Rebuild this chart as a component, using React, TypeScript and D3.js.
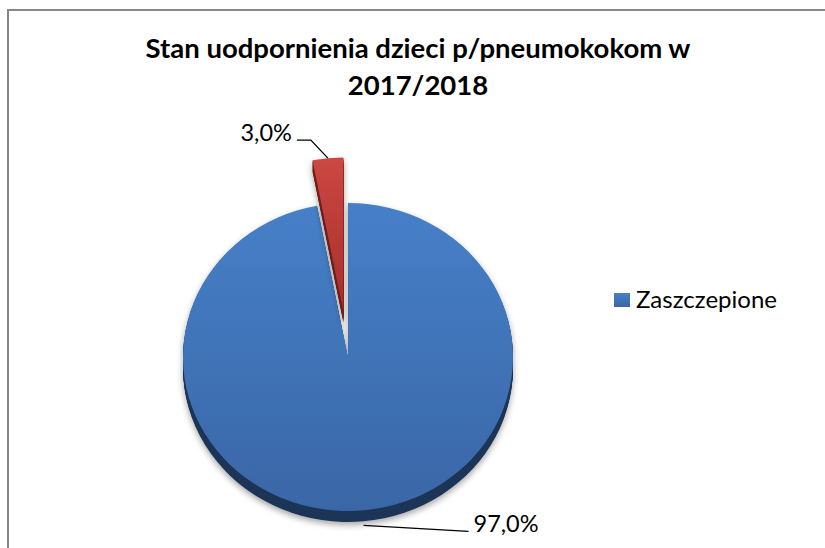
import React from "react";
import * as d3 from "d3";

const categories = ["Zaszczepione", ""];
const values = [97, 3];
const valueLabels = ["97,0%", "3,0%"];
const titleLines = ["Stan uodpornienia dzieci p/pneumokokom w", "2017/2018"];

const topColors = [
  ["#4680c8", "#3a66a6"],
  ["#cc4742", "#a52f2b"],
];
const sideColors = ["#1d3457", "#6e1d1a"];

export default function App() {
  const width = 825;
  const height = 548;
  const cx = 348;
  const cy = 357;
  const rx = 165;
  const ry = 154;
  const depth = 11;
  const squash = ry / rx;
  const explode = [0, 49];

  const pie = d3
    .pie<number>()
    .sort(null)
    .startAngle(0)
    .endAngle(2 * Math.PI);
  const arcs = pie(values);
  const arc = d3
    .arc<d3.PieArcDatum<number>>()
    .innerRadius(0)
    .outerRadius(rx);

  // offset of each slice (unscaled pie space)
  const offsets = arcs.map((a, i) => {
    const mid = (a.startAngle + a.endAngle) / 2;
    return [Math.sin(mid) * explode[i], -Math.cos(mid) * explode[i]];
  });

  // point on the outer rim at the bisector, in page coords
  const rimPoint = (i: number, withDepth: boolean) => {
    const a = arcs[i];
    const mid = (a.startAngle + a.endAngle) / 2;
    const x = cx + offsets[i][0] + Math.sin(mid) * rx;
    const y = cy + (offsets[i][1] - Math.cos(mid) * rx) * squash;
    return [x, y + (withDepth && Math.cos(mid) < 0 ? depth : 0)];
  };

  const p0 = rimPoint(0, true);
  const p1 = rimPoint(1, false);
  const line = d3.line();

  const steps = d3.range(1, depth + 1);

  return (
    <svg
      width={width}
      height={height}
      style={{ position: "absolute", left: 0, top: 0, background: "#fff" }}
      fontFamily="Lato, 'Open Sans', sans-serif"
    >
      <defs>
        {topColors.map((c, i) => (
          <linearGradient key={i} id={`grad${i}`} x1="0" y1="0" x2="0" y2="1">
            <stop offset="0%" stopColor={c[0]} />
            <stop offset="100%" stopColor={c[1]} />
          </linearGradient>
        ))}
        <filter id="shadow" x="-20%" y="-20%" width="140%" height="140%">
          <feDropShadow dx="0" dy="3" stdDeviation="3" floodColor="#000" floodOpacity="0.35" />
        </filter>
      </defs>

      <rect width={width} height={height} fill="#fff" />
      <path d={`M8,${height} V10 H${width}`} fill="none" stroke="#868686" strokeWidth={2} />

      <text x={418} y={58} textAnchor="middle" fontSize={27.5} fontWeight="bold" fill="#000">
        {titleLines[0]}
      </text>
      <text x={418} y={95} textAnchor="middle" fontSize={27.5} fontWeight="bold" fill="#000">
        {titleLines[1]}
      </text>

      {arcs.map((a, i) => (
        <g key={i} filter="url(#shadow)">
          <g transform={`translate(${cx},${cy}) scale(1,${squash}) translate(${offsets[i][0]},${offsets[i][1]})`}>
            {steps.map((k) => (
              <path key={k} d={arc(a) || ""} fill={sideColors[i]} transform={`translate(0,${k / squash})`} />
            ))}
            <path d={arc(a) || ""} fill={`url(#grad${i})`} />
          </g>
        </g>
      ))}

      <path
        d={line([[p0[0], p0[1] + 4], [p0[0] + 105, p0[1] + 10]]) || ""}
        fill="none"
        stroke="#000"
        strokeWidth={1.3}
      />
      <text x={p0[0] + 110} y={p0[1] + 11} fontSize={23.5} fill="#000">
        {valueLabels[0]}
      </text>

      <path
        d={line([p1 as [number, number], [p1[0] - 17, p1[1] - 18], [p1[0] - 31, p1[1] - 18]]) || ""}
        fill="none"
        stroke="#000"
        strokeWidth={1.3}
      />
      <text x={p1[0] - 36} y={p1[1] - 17} textAnchor="end" fontSize={23.5} fill="#000">
        {valueLabels[1]}
      </text>

      {categories
        .filter((c) => c !== "")
        .map((c, i) => (
          <g key={c} transform={`translate(614,${293 + i * 28})`}>
            <rect width={16} height={14} fill={`url(#grad${i})`} />
            <text x={22} y={15} fontSize={24} fill="#000">
              {c}
            </text>
          </g>
        ))}
    </svg>
  );
}
